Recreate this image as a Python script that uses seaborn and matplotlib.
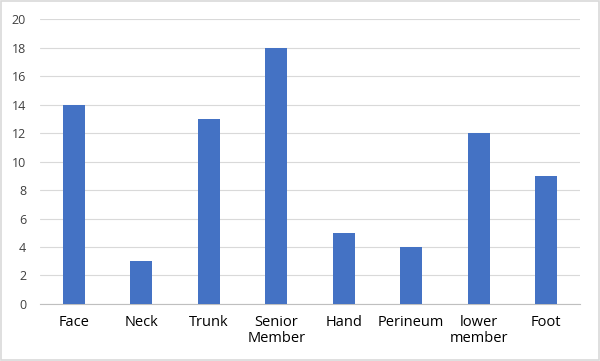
import matplotlib
matplotlib.use('Agg')
import matplotlib.pyplot as plt
import seaborn as sns
import pandas as pd

# Dati del grafico
categorie = ['Face', 'Neck', 'Trunk', 'Senior\nMember', 'Hand', 'Perineum', 'lower\nmember', 'Foot']
valori = [14, 3, 13, 18, 5, 4, 12, 9]

sns.set_style('white')
plt.rcParams['font.family'] = ['Open Sans', 'DejaVu Sans']

df = pd.DataFrame({'Categoria': categorie, 'Valore': valori})

fig = plt.figure(figsize=(6, 3.61), dpi=100)
ax = fig.add_axes([0.0667, 0.158, 0.90, 0.789])

sns.barplot(data=df, x='Categoria', y='Valore', color='#4472C4', width=0.33,
            saturation=1, linewidth=0, ax=ax, zorder=3)

ax.set_ylim(0, 20)
ax.set_yticks(range(0, 21, 2))
ax.set_xlim(-0.5, len(categorie) - 0.5)
ax.grid(axis='y', color='#D9D9D9', linewidth=0.8, zorder=0)
ax.set_xlabel('')
ax.set_ylabel('')
for s in ['top', 'right', 'left']:
    ax.spines[s].set_visible(False)
ax.spines['bottom'].set_color('#BFBFBF')
ax.tick_params(axis='y', length=0, labelsize=9, labelcolor='#404040', pad=10)
ax.tick_params(axis='x', length=0, labelsize=10.5, labelcolor='#000000', pad=8)
for lbl in ax.get_xticklabels():
    lbl.set_linespacing(1.05)

# Bordo esterno
fig.patches.append(plt.Rectangle((0.002, 0.003), 0.996, 0.994, transform=fig.transFigure,
                                 fill=False, edgecolor='#D9D9D9', linewidth=1.2))

plt.savefig('out.png', dpi=100)
